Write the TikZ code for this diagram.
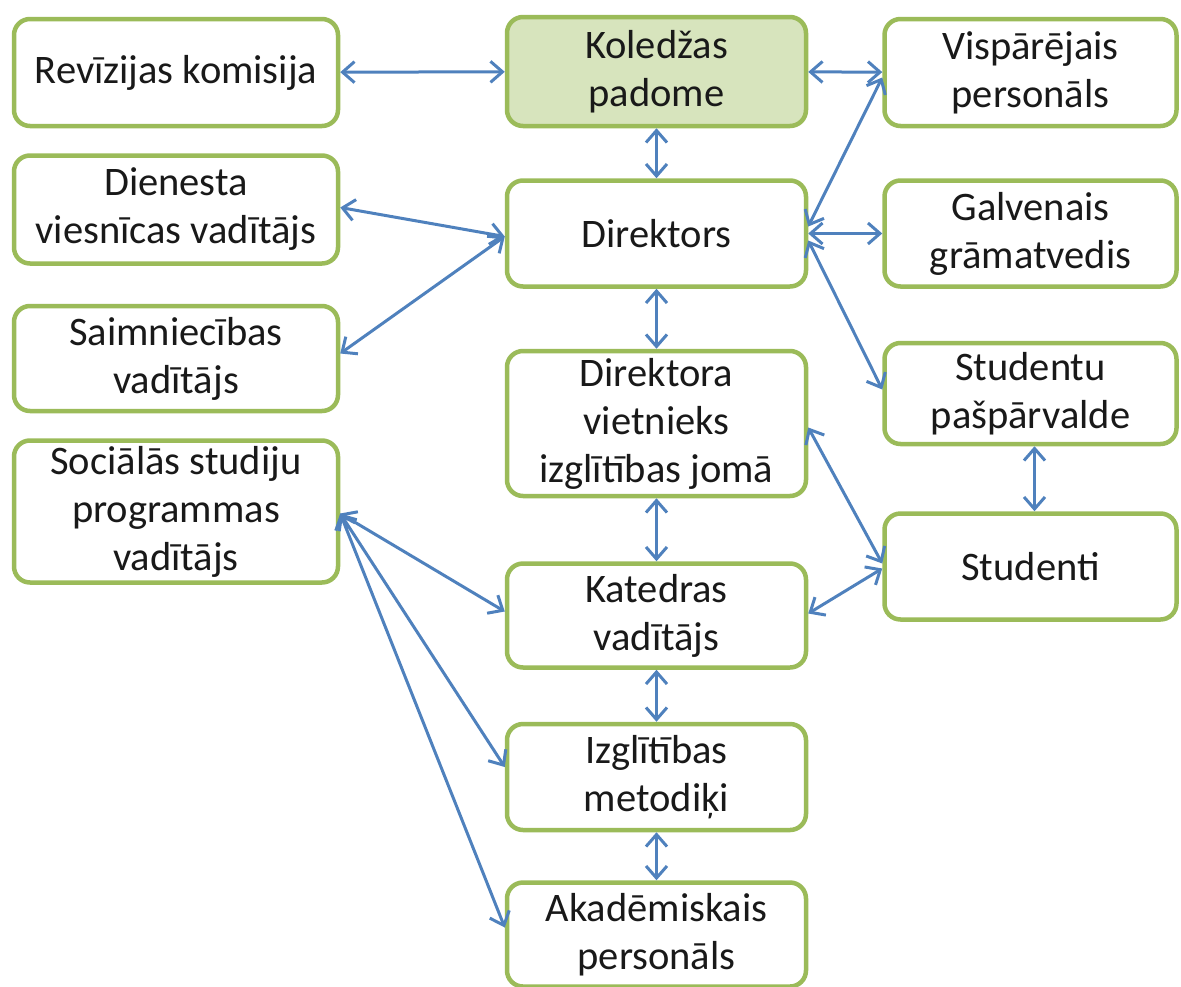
\documentclass[tikz,border=0pt]{standalone}
\usepackage{fontspec}
\setmainfont{Carlito}
\usetikzlibrary{arrows.meta,positioning}
\definecolor{BoxGreen}{HTML}{9BBB59}
\definecolor{BoxFill}{HTML}{D7E4BD}
\definecolor{LinkBlue}{HTML}{4F81BD}

\begin{document}
\begin{tikzpicture}[x=1pt, y=-1pt,
  obox/.style={rectangle, rounded corners=16pt, draw=BoxGreen, line width=4.5pt,
               fill=white, text=black!90, align=center, inner sep=0pt,
               font=\fontsize{40.5}{48}\selectfont},
  lcol/.style={obox, minimum width=324pt, minimum height=#1},
  mcol/.style={obox, minimum width=299pt, minimum height=#1},
  rcol/.style={obox, minimum width=292pt, minimum height=#1},
  link/.style={{Straight Barb[length=12pt,width=21pt]}-{Straight Barb[length=12pt,width=21pt]},
               draw=LinkBlue, line width=3pt}
]
  \useasboundingbox (0,0) rectangle (1181,986);

  % middle column
  \node[mcol=109pt, fill=BoxFill] (kol) at (656.5,71.5) {Koledžas\\padome};
  \node[mcol=106pt, below=50pt of kol] (dir) {Direktors};
  \node[mcol=145pt, below=60pt of dir] (dvi) {Direktora\\vietnieks\\izglītības jomā};
  \node[mcol=104pt, below=63pt of dvi] (kat) {Katedras\\vadītājs};
  \node[mcol=106pt, below=52pt of kat] (izgl) {Izglītības\\metodiķi};
  \node[mcol=104pt, below=48pt of izgl] (akad) {Akadēmiskais\\personāls};

  % left column
  \node[lcol=107pt] (rev) at (176,72.5) {Revīzijas komisija};
  \node[lcol=108pt, below=25pt of rev] (dien) {Dienesta\\viesnīcas vadītājs};
  \node[lcol=105pt, below=38pt of dien] (saim) {Saimniecības\\vadītājs};
  \node[lcol=142pt, below=25pt of saim] (soc) {Sociālās studiju\\programmas\\vadītājs};

  % right column
  \node[rcol=107pt] (visp) at (1030.5,72.5) {Vispārējais\\personāls};
  \node[rcol=106pt, below=50pt of visp] (galv) {Galvenais\\grāmatvedis};
  \node[rcol=101pt, below=52pt of galv] (stpas) {Studentu\\pašpārvalde};
  \node[rcol=106pt, below=65pt of stpas] (stud) {Studenti};

  % links
  \draw[link] (rev) -- (kol);
  \draw[link] (kol) -- (visp);
  \draw[link] (kol) -- (dir);
  \draw[link] ([yshift=2pt]dien.east) -- ([yshift=-3pt]dir.west);
  \draw[link] ([yshift=5pt]saim.east) -- ([yshift=-3pt]dir.west);
  \draw[link] ([yshift=7pt]dir.east) -- ([yshift=-5pt]visp.west);
  \draw[link] (dir) -- (galv);
  \draw[link] ([yshift=-7pt]dir.east) -- ([yshift=4pt]stpas.west);
  \draw[link] (dir) -- (dvi);
  \draw[link] ([yshift=-4pt]dvi.east) -- ([yshift=3pt]stud.west);
  \draw[link] ([xshift=4pt]stpas.south) -- ([xshift=4pt]stud.north);
  \draw[link] ([yshift=2pt]kat.east) -- ([yshift=-2pt]stud.west);
  \draw[link] (dvi) -- (kat);
  \draw[link] (kat) -- (izgl);
  \draw[link] (izgl) -- (akad);
  \draw[link] ([yshift=-2pt]soc.east) -- ([yshift=4pt]kat.west);
  \draw[link] ([yshift=-2pt]soc.east) -- ([yshift=10pt]izgl.west);
  \draw[link] ([yshift=-2pt]soc.east) -- ([yshift=7pt]akad.west);
\end{tikzpicture}
\end{document}
